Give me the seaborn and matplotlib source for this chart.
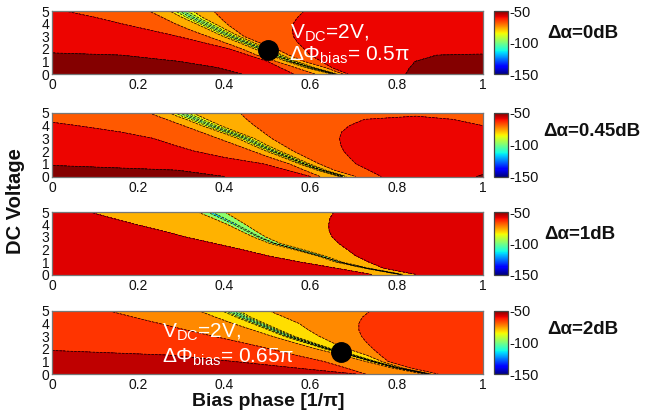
import numpy as np
import matplotlib
matplotlib.use("Agg")
import matplotlib.pyplot as plt
import seaborn as sns

# every contour is kept as its x position (bias phase) per voltage row,
# the field value on that curve is in the matching *_z list
volt = [0, 0.5, 1, 1.5, 2, 2.5, 3, 3.5, 4, 4.5, 5]
volt2 = [0, 0.5, 1, 1.5, 2, 2.5, 3, 3.5, 4, 4.5, 4.75, 5]

# delta alpha = 0 dB
p1_z = [-47, -55, -64, -73, -82, -91, -104, -91, -82, -73, -64, -55, -47]
p1_levels = [-136, -130, -120, -110, -100, -91, -82, -73, -64, -55, -46]
p1_x = [
    [-4] * 11,
    [.44, .385, .295, .16, -.3, -.6, -.9, -1.2, -1.5, -1.8, -2.1],
    [.56, .53, .50, .455, .41, .35, .29, .225, .16, .10, .03],
    [.61, .565, .52, .475, .44, .40, .36, .32, .285, .255, .225],
    [.647, .59, .543, .506, .469, .433, .396, .365, .333, .301, .273],
    [.651, .595, .549, .513, .477, .441, .405, .374, .343, .312, .286],
    [.655, .60, .555, .52, .485, .45, .415, .385, .355, .325, .30],
    [.659, .605, .561, .527, .493, .459, .425, .396, .367, .338, .314],
    [.663, .61, .567, .534, .501, .467, .434, .405, .377, .349, .327],
    [.675, .635, .585, .55, .52, .48, .445, .425, .405, .39, .375],
    [.687, .65, .625, .60, .585, .57, .56, .558, .56, .57, .585],
    [.821, .83, .843, .893, 1.5, 1.7, 1.9, 2.1, 2.3, 2.5, 2.7],
    [4] * 11,
]

# delta alpha = 0.45 dB, the closed red lobe needs a ridge column
p2_lobe_left = [-64] * 11 + [-65]
p2_ridge = [-50.3, -53, -56, -58, -58, -58, -58, -58, -58, -60, -64, -66]
p2_lobe_right = [-64] * 11 + [-65]
p2_z = [-47, -55, -64, -73, -82, -91, -104, -91, -82, -73,
        p2_lobe_left, p2_ridge, p2_lobe_right, -70]
p2_levels = p1_levels
p2_x = [
    [-4] * 12,
    [.40, .29, -.1, -.6, -.9, -1.2, -1.5, -1.8, -2.1, -2.4, -2.5, -2.6],
    [.6, .545, .49, .40, .33, .28, .235, .16, .06, -.05, -.12, -.2],
    [.622, .585, .55, .505, .465, .425, .385, .345, .305, .265, .245, .225],
    [.667, .615, .573, .536, .497, .463, .431, .39, .348, .311, .29, .273],
    [.671, .62, .579, .543, .505, .471, .44, .399, .358, .322, .302, .286],
    [.675, .625, .585, .55, .513, .48, .45, .41, .37, .335, .318, .30],
    [.679, .63, .591, .557, .521, .489, .46, .421, .382, .348, .332, .314],
    [.683, .635, .597, .564, .529, .497, .469, .43, .392, .359, .343, .327],
    [.705, .655, .62, .59, .56, .535, .51, .49, .47, .452, .444, .437],
    [.764, .735, .705, .69, .677, .67, .667, .672, .69, .725, .84, .85],
    [1.1, 1.1, 1.1, 1.1, 1.1, 1.1, 1.1, 1.1, .9, .84, .845, .855],
    [1.3, 1.3, 1.3, 1.3, 1.3, 1.3, 1.3, 1.2, 1.0, .93, .85, .86],
    [4] * 12,
]

# delta alpha = 1 dB
p3_z = [-50, -68, -88, -112, -88, -68, -50]
p3_levels = [-148, -128, -108, -88, -68, -49]
p3_x = [
    [-4] * 11,
    [.742, .66, .575, .50, .44, .375, .31, .255, .195, .14, .087],
    [.806, .725, .658, .614, .56, .504, .467, .437, .407, .373, .338],
    [.81, .73, .665, .622, .57, .515, .48, .452, .425, .395, .365],
    [.814, .736, .673, .632, .582, .529, .496, .472, .449, .425, .401],
    [.846, .77, .735, .705, .685, .665, .65, .643, .642, .645, .654],
    [4] * 11,
]

# delta alpha = 2 dB
p4_z = [-52, -60, -69, -78, -87, -110, -87, -78, -69, -62]
p4_levels = [-132, -123, -114, -105, -96, -87, -78, -69, -60, -51.5]
p4_x = [
    [-4] * 11,
    [.704, .56, .42, .27, -.1, -.5, -.9, -1.3, -1.7, -2.1, -2.5],
    [.727, .68, .63, .565, .505, .44, .374, .31, .25, .19, .133],
    [.861, .785, .727, .672, .612, .56, .51, .465, .42, .38, .342],
    [.869, .795, .739, .688, .632, .585, .538, .502, .465, .428, .395],
    [.873, .80, .745, .695, .64, .595, .55, .515, .48, .445, .415],
    [.877, .805, .751, .702, .648, .605, .562, .528, .495, .462, .435],
    [.879, .81, .765, .73, .685, .65, .62, .595, .574, .54, .505],
    [.896, .83, .78, .762, .745, .73, .718, .712, .712, .72, .738],
    [4] * 11,
]

panel_labels = ["Δα=0dB", "Δα=0.45dB", "Δα=1dB", "Δα=2dB"]
x_ticks = [0, 0.2, 0.4, 0.6, 0.8, 1]
x_tick_labels = ["0", "0.2", "0.4", "0.6", "0.8", "1"]
y_ticks = [0, 1, 2, 3, 4, 5]
cbar_ticks = [-150, -100, -50]
marker_phase = [0.5, None, None, 0.67]
marker_volt = [1.9, None, None, 1.75]

sns.set_theme(style="ticks")
plt.rcParams["font.family"] = ["Liberation Sans", "DejaVu Sans"]
plt.rcParams["axes.unicode_minus"] = False
plt.rcParams["mathtext.fontset"] = "custom"
plt.rcParams["mathtext.rm"] = "Liberation Sans"
plt.rcParams["mathtext.default"] = "regular"

W, H = 647, 418
ink = "#111111"
# seaborn refuses to hand out jet
jet = matplotlib.colormaps["jet"]
norm = plt.Normalize(-150, -50)


def box(x0, y0, x1, y1):
    return [x0 / W, 1 - y1 / H, (x1 - x0) / W, (y1 - y0) / H]


def mesh(volts, curves, z_cols):
    X = np.array(curves, dtype=float).T
    Y = np.tile(np.array(volts)[:, None], (1, X.shape[1]))
    Z = np.column_stack([np.broadcast_to(z, len(volts)) for z in z_cols])
    return X, Y, Z


fig = plt.figure(figsize=(W / 100, H / 100), dpi=100)

rows = [(11, 74), (113, 176.5), (212, 274.5), (311, 374)]
tables = [(volt, p1_x, p1_z, p1_levels), (volt2, p2_x, p2_z, p2_levels),
          (volt, p3_x, p3_z, p3_levels), (volt, p4_x, p4_z, p4_levels)]
label_pos = [(547, 33), (543, 132), (544, 234), (547, 330)]

for i, (top, bottom) in enumerate(rows):
    ax = fig.add_axes(box(52, top, 483, bottom))
    volts, curves, z_cols, levels = tables[i]
    X, Y, Z = mesh(volts, curves, z_cols)
    ax.contourf(X, Y, Z, levels=levels, cmap=jet, norm=norm)
    ax.contour(X, Y, Z, levels=levels[1:-1], colors="black", linewidths=0.5)
    ax.set_xlim(0, 1)
    ax.set_ylim(0, 5)
    ax.set_xticks(x_ticks)
    ax.set_xticklabels(x_tick_labels)
    ax.set_yticks(y_ticks)
    ax.tick_params(axis="x", direction="in", top=True, length=2.5, width=0.6,
                   labelsize=10, pad=3, labelcolor=ink, color="#444444")
    ax.tick_params(axis="y", direction="in", right=True, length=2.5, width=0.6,
                   labelsize=10, pad=2, labelcolor=ink, color="#444444")
    for s in ax.spines.values():
        s.set_linewidth(0.9)
        s.set_color("#777777")
    if marker_phase[i] is not None:
        ax.plot([marker_phase[i]], [marker_volt[i]], "o", color="black", ms=14, clip_on=False)

    cax = fig.add_axes(box(494, top, 508, bottom))
    cb = fig.colorbar(plt.cm.ScalarMappable(norm=norm, cmap=jet), cax=cax)
    cb.set_ticks(cbar_ticks)
    cb.set_ticklabels([str(t) for t in cbar_ticks])
    cax.tick_params(length=0, labelsize=10.5, pad=1, labelcolor=ink)
    cb.outline.set_linewidth(0.9)
    cb.outline.set_edgecolor("#444444")

    fig.text(label_pos[i][0] / W, 1 - label_pos[i][1] / H, panel_labels[i],
             fontsize=13.5, fontweight="bold", color=ink, va="center", ha="left")

note = dict(color="white", fontsize=15, va="center", ha="left")
fig.text(290 / W, 1 - 33 / H, r"V$_{\mathrm{DC}}$=2V,", **note)
fig.text(289 / W, 1 - 55 / H, r"ΔΦ$_{\mathrm{bias}}$= 0.5π", **note)
fig.text(162 / W, 1 - 332 / H, r"V$_{\mathrm{DC}}$=2V,", **note)
fig.text(162 / W, 1 - 357 / H, r"ΔΦ$_{\mathrm{bias}}$= 0.65π", **note)

fig.text(16 / W, 1 - 201 / H, "DC Voltage", rotation=90, fontsize=14.5, fontweight="bold",
         color=ink, va="center", ha="center")
fig.text(268 / W, 1 - 402 / H, "Bias phase [1/π]", fontsize=14, fontweight="bold",
         color=ink, va="center", ha="center")

plt.savefig("out.png", dpi=100)
